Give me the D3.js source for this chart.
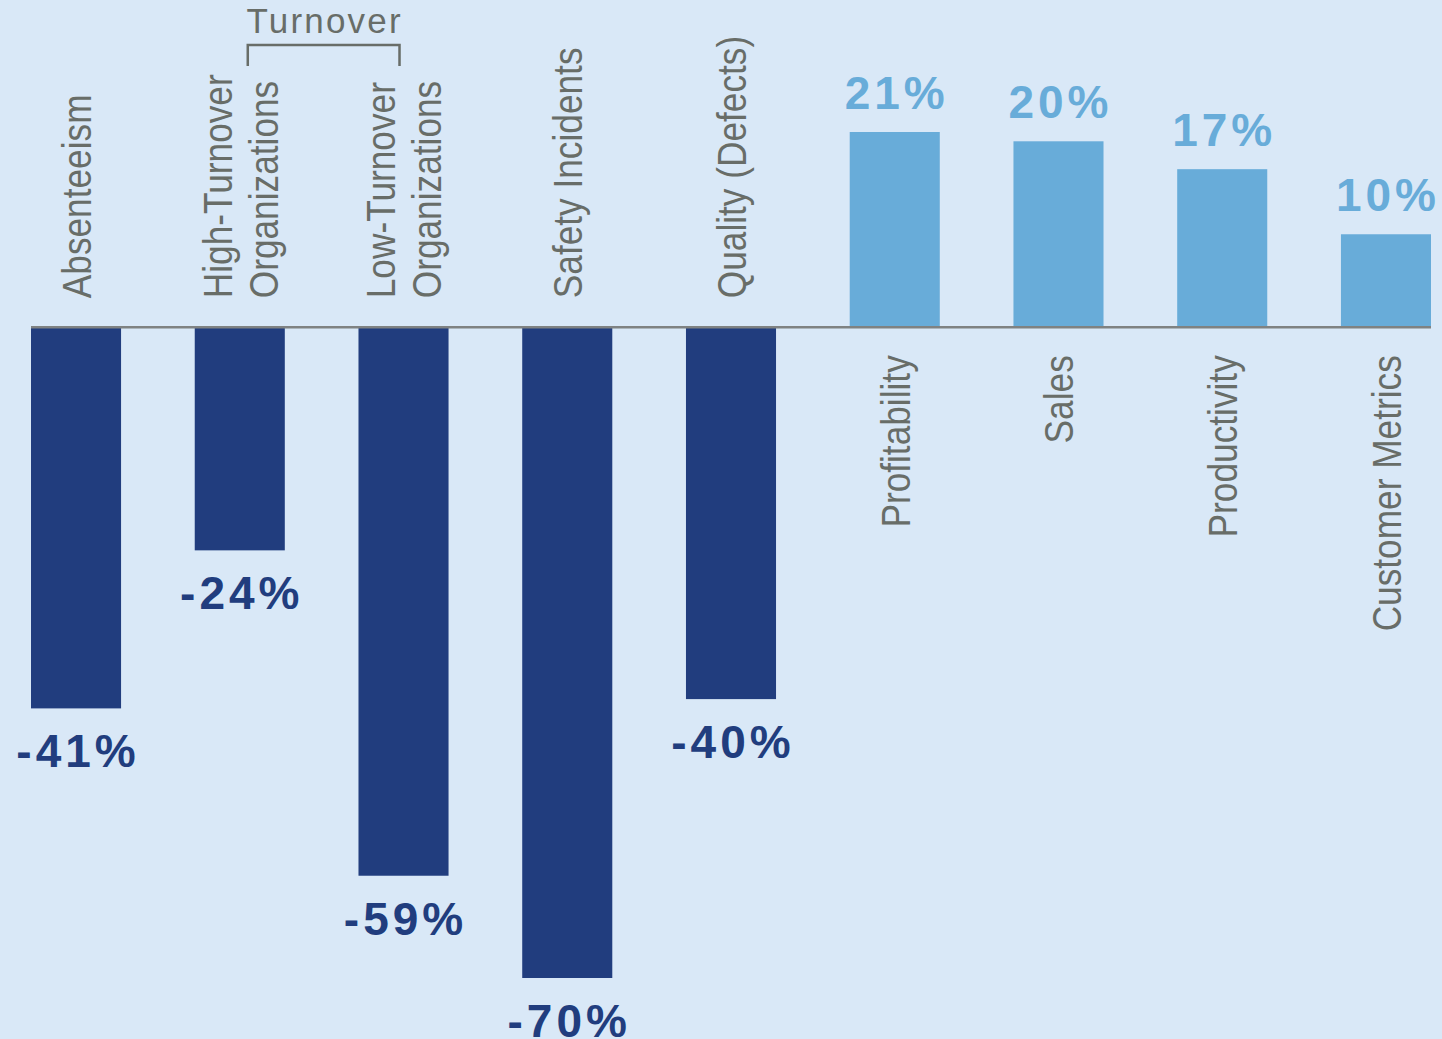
<!DOCTYPE html>
<html>
<head>
<meta charset="utf-8">
<script src="https://cdn.jsdelivr.net/npm/d3@7"></script>
<style>
  html, body { margin: 0; padding: 0; background: #d9e8f7; }
  svg { display: block; }
</style>
</head>
<body>
<div id="chart"></div>
<script>
let width = 1442,
    height = 1039;

let neg_color = '#213d7e';
let pos_color = '#68acd9';
let label_color = '#686d68';
let axis_color = '#7f8282';

// data
let categories = ['Absenteeism', 'High-Turnover', 'Low-Turnover', 'Safety Incidents',
    'Quality (Defects)', 'Profitability', 'Sales', 'Productivity', 'Customer Metrics'];
let labelLines = [['Absenteeism'], ['High-Turnover', 'Organizations'], ['Low-Turnover', 'Organizations'],
    ['Safety Incidents'], ['Quality (Defects)'], ['Profitability'], ['Sales'], ['Productivity'], ['Customer Metrics']];
let values = [-41, -24, -59, -70, -40, 21, 20, 17, 10];
let groupLabel = 'Turnover';
let groupMembers = ['High-Turnover', 'Low-Turnover'];

let svg = d3.select('#chart')
    .append('svg')
    .attr('width', width)
    .attr('height', height);

svg.append('rect')
    .attr('width', width)
    .attr('height', height)
    .attr('fill', '#d9e8f7');

let x = d3.scaleBand()
    .domain(categories)
    .range([31, 1431])
    .paddingInner(0.45)
    .paddingOuter(0);

let y = d3.scaleLinear()
    .domain([-70, 21])
    .range([978, 132]);

let data = categories.map((c, i) => ({ cat: c, value: values[i], lines: labelLines[i] }));

// bars
svg.selectAll('rect.bar')
    .data(data)
    .enter()
    .append('rect')
    .attr('class', 'bar')
    .attr('x', d => x(d.cat))
    .attr('width', x.bandwidth())
    .attr('y', d => y(Math.max(0, d.value)))
    .attr('height', d => Math.abs(y(d.value) - y(0)))
    .attr('fill', d => d.value < 0 ? neg_color : pos_color);

// zero line
svg.append('line')
    .attr('x1', x.range()[0])
    .attr('x2', x.range()[1])
    .attr('y1', y(0))
    .attr('y2', y(0))
    .style('stroke', axis_color)
    .style('stroke-width', 2.5);

// value labels
svg.selectAll('text.value')
    .data(data)
    .enter()
    .append('text')
    .attr('class', 'value')
    .attr('x', d => x(d.cat) + x.bandwidth() / 2 + 2)
    .attr('y', d => d.value < 0 ? y(d.value) + 59 : y(d.value) - 23)
    .attr('text-anchor', 'middle')
    .style('font-family', 'Liberation Sans, Arial, sans-serif')
    .style('font-weight', 'bold')
    .style('font-size', '46px')
    .style('letter-spacing', '4px')
    .style('fill', d => d.value < 0 ? neg_color : pos_color)
    .text(d => d.value + '%');

// category labels, rotated
let catLabels = svg.selectAll('g.cat')
    .data(data)
    .enter()
    .append('g')
    .attr('class', 'cat')
    .attr('transform', d => {
        let cx = x(d.cat) + x.bandwidth() / 2;
        let cy = d.value < 0 ? y(0) - 29 : y(0) + 28;
        return 'translate(' + cx + ',' + cy + ') rotate(-90) scale(0.86,1)';
    });

catLabels.each(function (d) {
    let g = d3.select(this);
    let n = d.lines.length;
    d.lines.forEach((line, j) => {
        g.append('text')
            .attr('x', 0)
            .attr('y', (j - (n - 1) / 2) * 46)
            .attr('dy', '0.36em')
            .attr('text-anchor', d.value < 0 ? 'start' : 'end')
            .style('font-family', 'Liberation Sans, Arial, sans-serif')
            .style('font-size', '41px')
            .style('fill', label_color)
            .text(line);
    });
});

// Turnover bracket
let bx1 = x(groupMembers[0]) + x.bandwidth() / 2 + 8;
let bx2 = x(groupMembers[1]) + x.bandwidth() / 2 - 4;
svg.append('path')
    .attr('d', 'M' + bx1 + ',66 V45 H' + bx2 + ' V66')
    .style('fill', 'none')
    .style('stroke', label_color)
    .style('stroke-width', 2.5);

svg.append('text')
    .attr('x', (bx1 + bx2) / 2 + 1)
    .attr('y', 33)
    .attr('text-anchor', 'middle')
    .style('font-family', 'Liberation Sans, Arial, sans-serif')
    .style('font-size', '35px')
    .style('letter-spacing', '2.2px')
    .style('fill', label_color)
    .text(groupLabel);
</script>
</body>
</html>
